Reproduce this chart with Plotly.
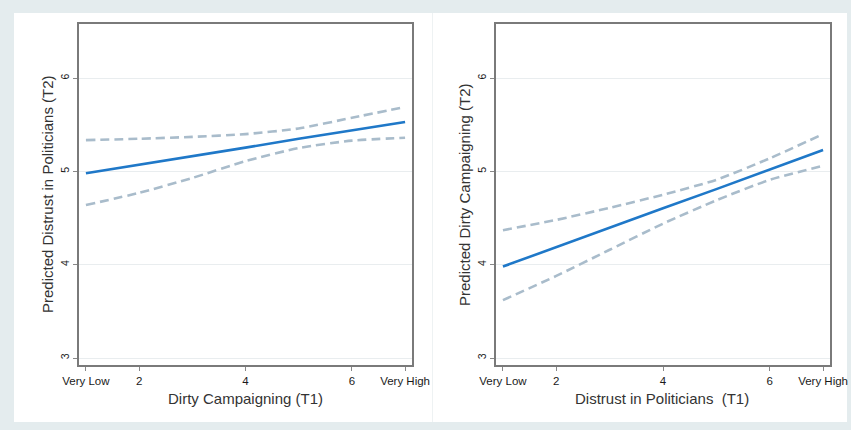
import plotly.graph_objects as go

# Data
x_vals = [1, 2, 3, 4, 5, 6, 7]
x_tickvals = [1, 2, 4, 6, 7]
x_ticktext = ["Very Low", "2", "4", "6", "Very High"]
y_tickvals = [3, 4, 5, 6]

# Left panel: Predicted Distrust in Politicians (T2) by Dirty Campaigning (T1)
left_mean = [4.98, 5.07, 5.165, 5.255, 5.35, 5.44, 5.53]
left_upper = [5.335, 5.35, 5.37, 5.40, 5.46, 5.575, 5.69]
left_lower = [4.64, 4.77, 4.93, 5.11, 5.25, 5.33, 5.36]

# Right panel: Predicted Dirty Campaigning (T2) by Distrust in Politicians (T1)
right_mean = [3.98, 4.19, 4.40, 4.605, 4.81, 5.02, 5.23]
right_upper = [4.37, 4.48, 4.61, 4.75, 4.91, 5.14, 5.40]
right_lower = [3.62, 3.88, 4.16, 4.44, 4.69, 4.91, 5.06]

W, H = 851, 430
MEAN_COLOR = "#1f78c8"
CI_COLOR = "#a9bccb"
BG = "#e4ecee"

fig = go.Figure()

def add_panel(xa, ya, mean, upper, lower):
    for series in (upper, lower):
        fig.add_trace(go.Scatter(
            x=x_vals, y=series, mode="lines", xaxis=xa, yaxis=ya,
            line=dict(color=CI_COLOR, width=2.6, dash="9px,5px", shape="spline", smoothing=0.6),
            hoverinfo="skip", showlegend=False))
    fig.add_trace(go.Scatter(
        x=x_vals, y=mean, mode="lines", xaxis=xa, yaxis=ya,
        line=dict(color=MEAN_COLOR, width=2.6),
        hoverinfo="skip", showlegend=False))

add_panel("x", "y", left_mean, left_upper, left_lower)
add_panel("x2", "y2", right_mean, right_upper, right_lower)

def px_x(p):
    return p / W

def px_y(p):
    return 1 - p / H

axis_common_x = dict(
    range=[0.87, 7.13], tickmode="array", tickvals=x_tickvals, ticktext=x_ticktext,
    ticks="outside", ticklen=4, tickcolor="#888", tickwidth=1,
    showline=True, linecolor="#7a7a7a", linewidth=1.5, mirror=True,
    showgrid=False, zeroline=False, automargin=False,
    tickfont=dict(family="Liberation Sans, Arial, sans-serif", size=11.5, color="#1a1a1a"),
)
axis_common_y = dict(
    range=[2.925, 6.58], tickmode="array", tickvals=y_tickvals,
    ticks="outside", ticklen=4, tickcolor="#888", tickwidth=1, tickangle=-90,
    showline=True, linecolor="#7a7a7a", linewidth=1.5, mirror=True,
    showgrid=True, gridcolor="#e9edef", gridwidth=1, zeroline=False, automargin=False,
    tickfont=dict(family="Liberation Sans, Arial, sans-serif", size=10.5, color="#1a1a1a"),
)

fig.update_layout(
    width=W, height=H,
    autosize=False,
    margin=dict(l=0, r=0, t=0, b=0, pad=0),
    paper_bgcolor=BG, plot_bgcolor="white",
    xaxis=dict(domain=[px_x(79), px_x(412)], anchor="y", **axis_common_x),
    yaxis=dict(domain=[px_y(365), px_y(24)], anchor="x", **axis_common_y),
    xaxis2=dict(domain=[px_x(496), px_x(830)], anchor="y2", **axis_common_x),
    yaxis2=dict(domain=[px_y(365), px_y(24)], anchor="x2", **axis_common_y),
    shapes=[
        dict(type="rect", xref="paper", yref="paper", layer="below",
             x0=px_x(14), x1=px_x(847), y0=px_y(422), y1=px_y(13),
             fillcolor="white", line=dict(width=0)),
        dict(type="line", xref="paper", yref="paper", layer="below",
             x0=px_x(432.5), x1=px_x(432.5), y0=px_y(422), y1=px_y(13),
             line=dict(color="#eef2f3", width=1)),
    ],
)

title_font = dict(family="Liberation Sans, Arial, sans-serif", size=15, color="#333333")
annotations = [
    dict(text="Dirty Campaigning (T1)", x=px_x(245.5), y=px_y(398)),
    dict(text="Distrust in Politicians  (T1)", x=px_x(662), y=px_y(398)),
    dict(text="Predicted Distrust in Politicians (T2)", x=px_x(47), y=px_y(194), textangle=-90),
    dict(text="Predicted Dirty Campaigning (T2)", x=px_x(465), y=px_y(195), textangle=-90),
]
for a in annotations:
    fig.add_annotation(xref="paper", yref="paper", showarrow=False,
                       xanchor="center", yanchor="middle", font=title_font, **a)

fig.write_html(
    "out.html",
    config={"displayModeBar": False},
    post_script="document.body.style.margin='0';document.body.style.background='%s';" % BG,
)
